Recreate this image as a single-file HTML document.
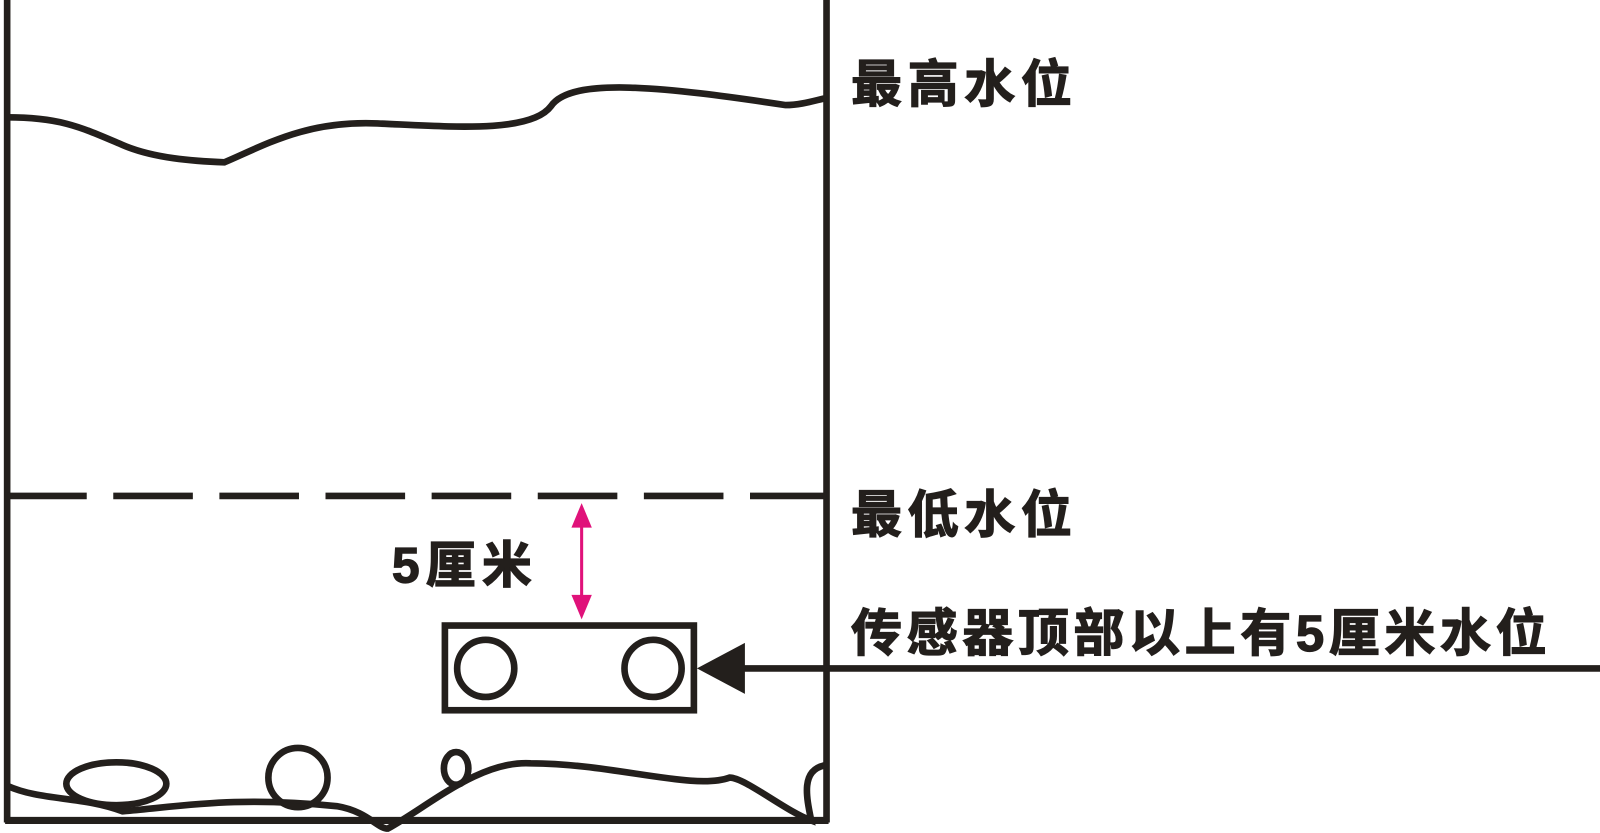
<!DOCTYPE html>
<html><head><meta charset="utf-8"><style>
html,body{margin:0;padding:0;background:#fff;}
svg{display:block}
text{font-family:"Liberation Sans","Noto Sans CJK SC",sans-serif;font-weight:bold;fill:#231f1c;stroke:#231f1c;stroke-width:1.2}
</style></head><body>
<svg width="1600" height="833" viewBox="0 0 1568 816.3" preserveAspectRatio="none" xmlns="http://www.w3.org/2000/svg">
<g fill="none" stroke="#231f1c" stroke-width="6.5">
<line x1="7" y1="0" x2="7" y2="806"/>
<line x1="810" y1="0" x2="810" y2="806"/>
<line x1="5" y1="804" x2="812" y2="804" stroke-width="7"/>
<path d="M7 115 C60 115 80 125 120 142 C150 155 190 158 220 159 C260 142 300 118 370 121 C440 124 520 131 540 104 C560 75 650 85 770 103 C785 103 800 98 810 96"/>
<line x1="7" y1="486" x2="810" y2="486" stroke-dasharray="78 26"/>
<rect x="436" y="613" width="244" height="83"/>
<circle cx="476" cy="655" r="28"/>
<circle cx="640" cy="655" r="28"/>
<line x1="728" y1="655" x2="1568" y2="655"/>
<path d="M7 770 C40 785 80 780 120 795 C180 790 230 780 330 790 C360 795 370 812 380 812 C420 790 470 745 520 748 C600 748 680 775 715 762 C730 762 770 795 795 804 C790 780 785 755 808 750"/>
<ellipse cx="114" cy="768" rx="49" ry="21"/>
<circle cx="292" cy="762" r="29"/>
<ellipse cx="447" cy="753" rx="12" ry="16"/>
</g>
<polygon points="683,655 730,630 730,680" fill="#231f1c"/>
<g stroke="#e0127a" stroke-width="3"><line x1="570" y1="510" x2="570" y2="592"/></g>
<polygon points="570,493 560,517 580,517" fill="#e0127a"/>
<polygon points="570,607 560,583 580,583" fill="#e0127a"/>
<text x="834" y="100" font-size="50" letter-spacing="5.5">最高水位</text>
<text x="834" y="522" font-size="50" letter-spacing="5.5">最低水位</text>
<text x="834" y="638" font-size="50" letter-spacing="4.5">传感器顶部以上有5厘米水位</text>
<text x="384" y="571" font-size="49" letter-spacing="6">5厘米</text>
</svg>
</body></html>
